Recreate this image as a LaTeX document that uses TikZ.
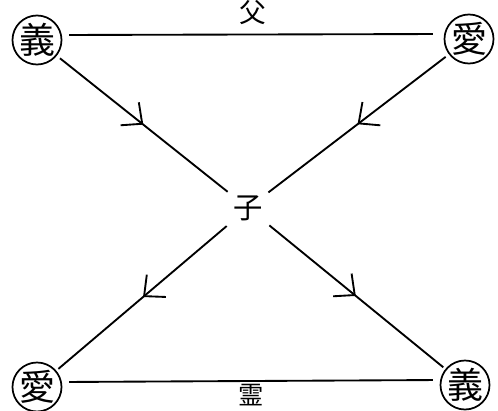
\documentclass[tikz,border=0pt]{standalone}
\usepackage{fontspec}
\newfontfamily\cjk{Noto Sans CJK JP}
\usetikzlibrary{arrows.meta,decorations.markings}
\begin{document}
\begin{tikzpicture}[x=0.75pt,y=0.75pt,yscale=-1,xscale=1,
  maru/.style={draw,circle,line width=1.3pt,inner sep=0pt,minimum size=34.5pt,font=\cjk\fontsize{27}{27}\selectfont},
  ko/.style={inner sep=0pt,minimum width=27pt,minimum height=24pt,font=\cjk\fontsize{22}{22}\selectfont},
  sen/.style={line width=1.4pt},
  yaji/.style={sen,shorten <=3pt,shorten >=2pt,postaction={decorate},
    decoration={markings,mark=at position 0.5 with {\arrow{Straight Barb[length=12pt,width=22pt,line width=1.4pt]}}}}
]
\useasboundingbox (0,0) rectangle (498,410);
\node[maru] (giTL) at (37,40) {義};
\node[maru] (aiTR) at (469,39) {愛};
\node[maru] (aiBL) at (37,387) {愛};
\node[maru] (giBR) at (465,385) {義};
\node[ko] (ko) at (248,208) {子};
% horizontal lines
\draw[sen,shorten <=5pt,shorten >=8pt] ([yshift=-3.75pt]giTL.east) -- node[midway,above=3.5pt,font=\cjk\fontsize{20}{20}\selectfont] (chichi) {父} ([yshift=-3.75pt]aiTR.west);
\draw[sen,shorten <=5pt,shorten >=5pt] ([yshift=-3.75pt]aiBL.east) -- node[midway,below=-1.5pt,font=\cjk\fontsize{19}{19}\selectfont] (rei) {霊} ([yshift=-3.75pt]giBR.west);
% diagonals
\draw[yaji] (giTL) -- (ko);
\draw[yaji] (aiTR) -- (ko);
\draw[yaji] (ko) -- (aiBL);
\draw[yaji] (ko) -- (giBR);
\end{tikzpicture}
\end{document}
